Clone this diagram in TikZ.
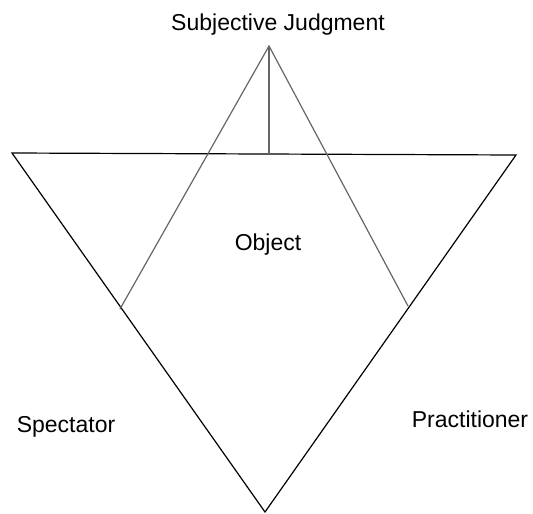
\documentclass[tikz,border=0pt]{standalone}
\usepackage{fontspec}
\setmainfont{Liberation Sans}
\begin{document}
\begin{tikzpicture}[x=1pt,y=-1pt,
  lbl/.style={font=\fontsize{23}{27}\selectfont, inner sep=0pt, anchor=base},
  edge/.style={draw=black, line width=1.2pt},
  ray/.style={draw=black!60, line width=1.2pt}]
\useasboundingbox (0,0) rectangle (533,514);
\coordinate (tl) at (12,153);
\coordinate (tr) at (516,155);
\coordinate (bt) at (265,512);
\coordinate (ap) at (269,46);
\coordinate (lf) at (120,309);
\coordinate (rf) at (408,306);
\coordinate (mid) at (269,154);
\draw[edge] (tl) -- (tr) -- (bt) -- cycle;
\draw[ray] (lf) -- (ap) -- (rf);
\draw[ray] (ap) -- (mid);
\node[lbl] (sj) at (278,30) {Subjective Judgment};
\node[lbl] (ob) at (268,250) {Object};
\node[lbl] (sp) at (66,432) {Spectator};
\node[lbl] (pr) at (470,427) {Practitioner};
\end{tikzpicture}
\end{document}
